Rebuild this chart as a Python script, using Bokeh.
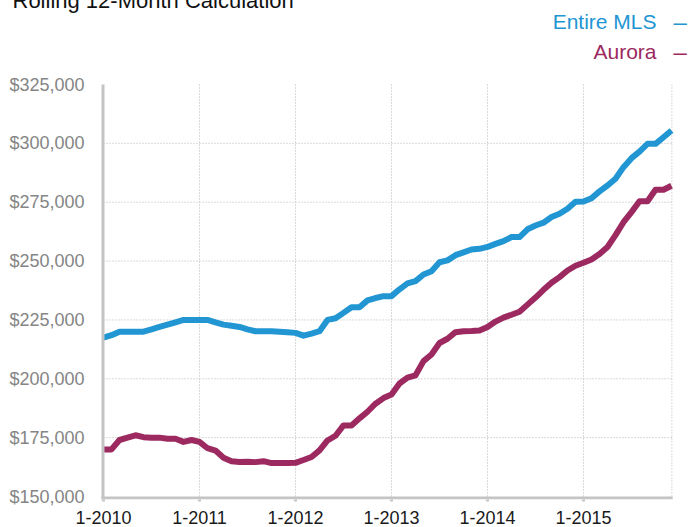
from bokeh.plotting import figure
from bokeh.models import Range1d, FixedTicker, NumeralTickFormatter, Title, Label
from bokeh.embed import file_html
from bokeh.resources import INLINE

# ---- data (monthly rolling 12-month values, Jan 2010 .. Dec 2015) ----
month_index = list(range(72))
entire_mls = [
    217500, 218500, 220000, 220000, 220000, 220000, 221000, 222000, 223000, 224000, 225000, 225000,
    225000, 225000, 224000, 223000, 222500, 222000, 221000, 220200, 220200, 220200, 220000, 219800,
    219500, 218300, 219200, 220200, 225000, 225700, 228000, 230400, 230400, 233300, 234300, 235100,
    235100, 238000, 240500, 241500, 244300, 245700, 249500, 250300, 252500, 253700, 254900, 255200,
    256000, 257300, 258500, 260200, 260200, 263500, 265100, 266300, 268700, 270100, 272200, 275200,
    275300, 276700, 279600, 282100, 285000, 289900, 293700, 296500, 299800, 299800, 302600, 305500,
]
aurora = [
    170000, 170000, 174000, 175000, 176000, 175200, 175000, 175000, 174500, 174500, 173200, 174000,
    173200, 170500, 169500, 166500, 165000, 164700, 164800, 164600, 165000, 164200, 164200, 164200,
    164300, 165500, 166800, 169600, 173800, 175800, 180200, 180200, 183200, 186000, 189400, 191800,
    193300, 198000, 200500, 201500, 207500, 210300, 215200, 217000, 219800, 220200, 220300, 220500,
    222000, 224300, 226000, 227200, 228500, 231500, 234500, 237800, 240800, 243200, 246000, 248000,
    249300, 250700, 253000, 256000, 261000, 266500, 270800, 275400, 275400, 280300, 280300, 282000,
]
year_ticks = [0, 12, 24, 36, 48, 60]
year_labels = ["1-2010", "1-2011", "1-2012", "1-2013", "1-2014", "1-2015"]
price_ticks = [150000, 175000, 200000, 225000, 250000, 275000, 300000, 325000]
grid_ticks = [175000, 200000, 225000, 250000, 275000, 300000]
series_names = ["Entire MLS", "Aurora"]
title_text = "Rolling 12-Month Calculation"

# ---- styling constants ----
BLUE = "#2196d3"
MAGENTA = "#9c2a60"
AXIS_GRAY = "#c4c4c4"
GRID_GRAY = "#b5b5b5"
FONT = "Liberation Sans"
UPP = 175000 / 412.0          # data units per pixel (vertical)
Y_MIN, Y_MAX = price_ticks[0], price_ticks[-1]
X_LAST = month_index[-1] + 0.05

p = figure(
    width=691, height=551, title=None,
    output_backend="svg", toolbar_location=None,
    x_range=Range1d(-0.375, 73.5),
    y_range=Range1d(Y_MIN - 3 * UPP, Y_MAX + 72 * UPP),
    min_border_left=100, min_border_right=0, min_border_top=31, min_border_bottom=33,
    styles={"margin": "-19px 0px -5px 0px"},
)
p.outline_line_color = None
p.background_fill_color = "white"
p.border_fill_color = "white"
p.xgrid.visible = False
p.ygrid.visible = False

# x axis (ticks and labels; the axis line is drawn below as a segment)
xa = p.xaxis[0]
xa.ticker = FixedTicker(ticks=year_ticks)
xa.major_label_overrides = {t: lab for t, lab in zip(year_ticks, year_labels)}
xa.axis_line_color = None
xa.major_tick_line_color = AXIS_GRAY
xa.major_tick_line_width = 3
xa.major_tick_out = 2
xa.major_tick_in = 0
xa.minor_tick_line_color = None
xa.major_label_text_font = FONT
xa.major_label_text_font_size = "18px"
xa.major_label_text_color = "#1a1a1a"
xa.major_label_standoff = 9

# y axis (labels only)
ya = p.yaxis[0]
ya.ticker = FixedTicker(ticks=price_ticks)
ya.formatter = NumeralTickFormatter(format="$0,0")
ya.axis_line_color = None
ya.major_tick_line_color = None
ya.major_tick_out = 0
ya.major_tick_in = 0
ya.minor_tick_line_color = None
ya.minor_tick_out = 0
ya.major_label_text_font = FONT
ya.major_label_text_font_size = "18px"
ya.major_label_text_color = "#858585"
ya.major_label_standoff = 16

# dotted grid
p.segment(x0=[0] * len(grid_ticks), x1=[X_LAST] * len(grid_ticks), y0=grid_ticks, y1=grid_ticks,
          line_color=GRID_GRAY, line_dash="1 2", line_width=1)
vx = year_ticks[1:] + [X_LAST]
p.segment(x0=vx, x1=vx, y0=[Y_MIN] * len(vx), y1=[Y_MAX] * len(vx),
          line_color=GRID_GRAY, line_dash="1 2", line_width=1)

# series
p.line(month_index, entire_mls, line_color=BLUE, line_width=6, line_join="round")
p.line(month_index, aurora, line_color=MAGENTA, line_width=6, line_join="round")

# axis lines
p.segment(x0=[-0.0625], x1=[-0.0625], y0=[Y_MIN - 3 * UPP], y1=[Y_MAX],
          line_color=AXIS_GRAY, line_width=3)
p.segment(x0=[-0.25], x1=[X_LAST + 0.1], y0=[Y_MIN - 1.5 * UPP], y1=[Y_MIN - 1.5 * UPP],
          line_color=AXIS_GRAY, line_width=3)

# legend as text
legend_y = [Y_MAX + 63 * UPP, Y_MAX + 33 * UPP]
for name, col, yy in zip(series_names, [BLUE, MAGENTA], legend_y):
    p.add_layout(Label(x=69.125, y=yy, text=name, text_font=FONT, text_font_size="21px",
                       text_color=col, text_align="right", text_baseline="alphabetic"))
    p.add_layout(Label(x=71.25, y=yy, text="\u2013", text_font=FONT, text_font_size="24px",
                       text_color=col, text_align="left", text_baseline="alphabetic"))

# main title (partly cut off at the top of the picture, as in the source)
p.add_layout(Title(text=title_text, align="left", offset=-88, text_font=FONT,
                   text_font_size="22px", text_font_style="normal",
                   text_color="#111111", standoff=0), "above")

open("out.html", "w").write(file_html(p, INLINE))
